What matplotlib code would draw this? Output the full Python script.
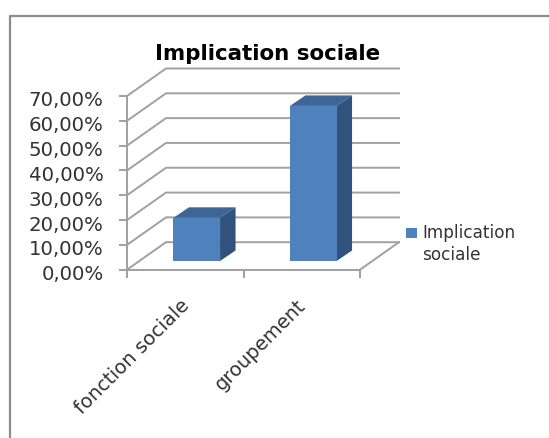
import matplotlib.pyplot as plt
from matplotlib.patches import Polygon, Rectangle
from matplotlib.transforms import ScaledTranslation

WIDTH, HEIGHT = 549, 439

categories = ["fonction sociale", "groupement"]
values = [17.4, 62.5]
tick_values = [0, 10, 20, 30, 40, 50, 60, 70]
tick_labels = ["0,00%", "10,00%", "20,00%", "30,00%", "40,00%", "50,00%", "60,00%", "70,00%"]
series_name = "Implication\nsociale"
title = "Implication sociale"

FRONT = "#4f81bd"
TOP = "#3d6595"
SIDE = "#30527c"
GRID = "#a0a0a0"
BORDER = "#8c8c8c"
TEXT = "#333333"


def to_fig(x, y):
    return x / WIDTH, 1 - y / HEIGHT


fig = plt.figure(figsize=(WIDTH / 100, HEIGHT / 100), dpi=100)
fig.patch.set_facecolor("white")

# outer frame: only the left and top edges are inside the picture
frame_x = [to_fig(10, 0)[0], to_fig(10, 0)[0], 1]
frame_y = [0, to_fig(0, 17)[1], to_fig(0, 17)[1]]
fig.add_artist(plt.Line2D(frame_x, frame_y, transform=fig.transFigure, color=BORDER, lw=1.6))

left, right = 127, 360
top, bottom = 97, 270.7
ax = fig.add_axes([left / WIDTH, 1 - bottom / HEIGHT,
                   (right - left) / WIDTH, (bottom - top) / HEIGHT])
ax.set_xlim(0, 2)
ax.set_ylim(0, 70)
ax.patch.set_visible(False)
for side in ["top", "right"]:
    ax.spines[side].set_visible(False)
for side in ["left", "bottom"]:
    ax.spines[side].set_color(GRID)
    ax.spines[side].set_linewidth(1.4)

# depth offset of the back wall, in data units
unit_x = 2 / (right - left)
unit_y = 70 / (bottom - top)
depth_x = 39 * unit_x
depth_y = 27.5 * unit_y

# walls and floor
for value in tick_values:
    ax.plot([0, depth_x, 2 + depth_x], [value, value + depth_y, value + depth_y],
            color=GRID, lw=1.4, clip_on=False, zorder=1)
ax.plot([2, 2 + depth_x], [0, depth_y], color=GRID, lw=1.4, clip_on=False, zorder=1)

# 3d columns
bar_width = 0.4
near_x, near_y = 11.5 * unit_x, 8.7 * unit_y
far_x, far_y = 27 * unit_x, 19.2 * unit_y
for i, value in enumerate(values):
    x0 = i + 0.5 - bar_width / 2 + near_x
    x1 = x0 + bar_width
    y0 = near_y
    y1 = near_y + value
    shift_x = far_x - near_x
    shift_y = far_y - near_y
    ax.add_patch(Polygon([(x0, y1), (x1, y1), (x1 + shift_x, y1 + shift_y), (x0 + shift_x, y1 + shift_y)],
                         fc=TOP, ec="none", clip_on=False, zorder=3))
    ax.add_patch(Polygon([(x1, y0), (x1 + shift_x, y0 + shift_y), (x1 + shift_x, y1 + shift_y), (x1, y1)],
                         fc=SIDE, ec="none", clip_on=False, zorder=3))
    ax.bar(x0, value, width=bar_width, bottom=y0, align="edge", color=FRONT, zorder=4, clip_on=False)

ax.set_yticks(tick_values, tick_labels, fontsize=14.2, color=TEXT)
ax.tick_params(axis="y", length=5.8, width=1.4, color=GRID, pad=11)
# labels sit a little under their ticks
for label in ax.get_yticklabels():
    label.set_transform(label.get_transform() + ScaledTranslation(0, -2 / 100, fig.dpi_scale_trans))
ax.set_xticks([0, 1, 2], [""] * 3)
ax.tick_params(axis="x", length=5.8, width=1.4, color=GRID)
for i, name in enumerate(categories):
    ax.annotate(name, xy=(i + 0.45, 0), xycoords="data", xytext=(0, -18), textcoords="offset points",
                rotation=45, rotation_mode="anchor", ha="right", va="top", fontsize=14, color=TEXT)

fig.text(268 / WIDTH, 1 - 54 / HEIGHT, title, ha="center", va="center",
         fontsize=15.4, fontweight="bold", color="black")

fig.add_artist(Rectangle(to_fig(406, 239), 11 / WIDTH, 10 / HEIGHT,
                         transform=fig.transFigure, fc=FRONT, ec="none"))
fig.text(422 / WIDTH, 1 - 244 / HEIGHT, series_name, ha="left", va="center",
         fontsize=12.2, color=TEXT, linespacing=1.25)

fig.savefig("out.png", dpi=100)
